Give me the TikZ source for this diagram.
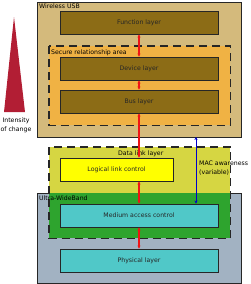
\documentclass[tikz,border=0pt]{standalone}
\usepackage{fontspec}
\setmainfont{DejaVu Sans}
\usetikzlibrary{arrows.meta}
\definecolor{usbtan}{RGB}{212,186,124}
\definecolor{layerbrown}{RGB}{140,108,22}
\definecolor{secorange}{RGB}{240,178,68}
\definecolor{dllyellow}{RGB}{214,214,66}
\definecolor{llcyellow}{RGB}{255,255,0}
\definecolor{dlgreen}{RGB}{46,164,46}
\definecolor{uwbgrey}{RGB}{162,178,194}
\definecolor{maccyan}{RGB}{80,200,200}
\definecolor{wedgered}{RGB}{178,30,52}
\definecolor{linkred}{RGB}{240,20,20}
\begin{document}
\begin{tikzpicture}[x=1pt,y=-1pt,
  font=\fontsize{6.2}{8.6}\selectfont,
  areabox/.style={anchor=north west,inner sep=0pt,line width=1pt,draw=black!85},
  dashbox/.style={line width=1.2pt,draw=black!85,dash pattern=on 8pt off 5pt},
  layer/.style={draw=black!85,line width=0.9pt,minimum width=158pt,minimum height=23pt,inner sep=0pt,text=black!85},
  link/.style={linkred,line width=1.2pt,{Stealth[length=3pt,width=3.2pt]}-{Stealth[length=3pt,width=3.2pt]}},
  aware/.style={blue!80!black,line width=0.9pt,{Stealth[length=3pt,width=3.2pt]}-{Stealth[length=3pt,width=3.2pt]}}]
\useasboundingbox (0,0) rectangle (250,284);
% intensity wedge
\fill[wedgered] (14,17) -- (25,112) -- (4,112) -- cycle;
\node[align=center] (intensity) at (16,125.5) {Intensity\\of change};
% wireless usb
\node[areabox,fill=usbtan,minimum width=204pt,minimum height=135pt] (wusb) at (37,2) {};
\node[anchor=north west,inner sep=0pt] at ([shift={(2,2)}]wusb.north west) {Wireless USB};
\node[anchor=north west,inner sep=0pt,minimum width=181pt,minimum height=79pt,fill=secorange] (secure) at (49,46) {};
\draw[dashbox] (secure.north west) rectangle (secure.south east);
\node[anchor=north west,inner sep=0pt] at ([shift={(2,3.5)}]secure.north west) {Secure relationship area};
\node[layer,fill=layerbrown] (function) at (139,22.5) {Function layer};
\node[layer,fill=layerbrown] (device) at (139,68.5) {Device layer};
\node[layer,fill=layerbrown] (bus) at (139,101.5) {Bus layer};
% ultra-wideband and data link
\node[areabox,fill=uwbgrey,minimum width=204pt,minimum height=90pt] (uwb) at (37,193) {};
\node[anchor=north west,inner sep=0pt,minimum width=181pt,minimum height=91pt,fill=dllyellow] (dll) at (49,147) {};
\fill[dlgreen] (dll.west |- uwb.north) rectangle (dll.south east);
\draw[dashbox] (dll.north west) rectangle (dll.south east);
\node[anchor=north,inner sep=0pt] at ([shift={(1,3.5)}]dll.north) {Data link layer};
\node[anchor=north west,inner sep=0pt] at ([shift={(2,3)}]uwb.north west) {Ultra-WideBand};
\node[layer,fill=llcyellow,minimum width=113pt] (llc) at (116.5,169.5) {Logical link control};
\node[layer,fill=maccyan] (mac) at (139,215.5) {Medium access control};
\node[layer,fill=maccyan] (phy) at (139,260.5) {Physical layer};
\node[anchor=north west,align=left,inner sep=0pt] (awarelbl) at (199,161) {MAC awareness\\(variable)};
% connectors
\draw[link] (function.south) -- (device.north);
\draw[link] (device.south) -- (bus.north);
\draw[link] (bus.south) -- (bus.south |- llc.north);
\draw[link] (llc.south -| mac.north) -- (mac.north);
\draw[link] (mac.south) -- (phy.north);
\coordinate (awaretop) at (196,137);
\draw[aware] (awaretop) -- (awaretop |- mac.north);
\end{tikzpicture}
\end{document}
